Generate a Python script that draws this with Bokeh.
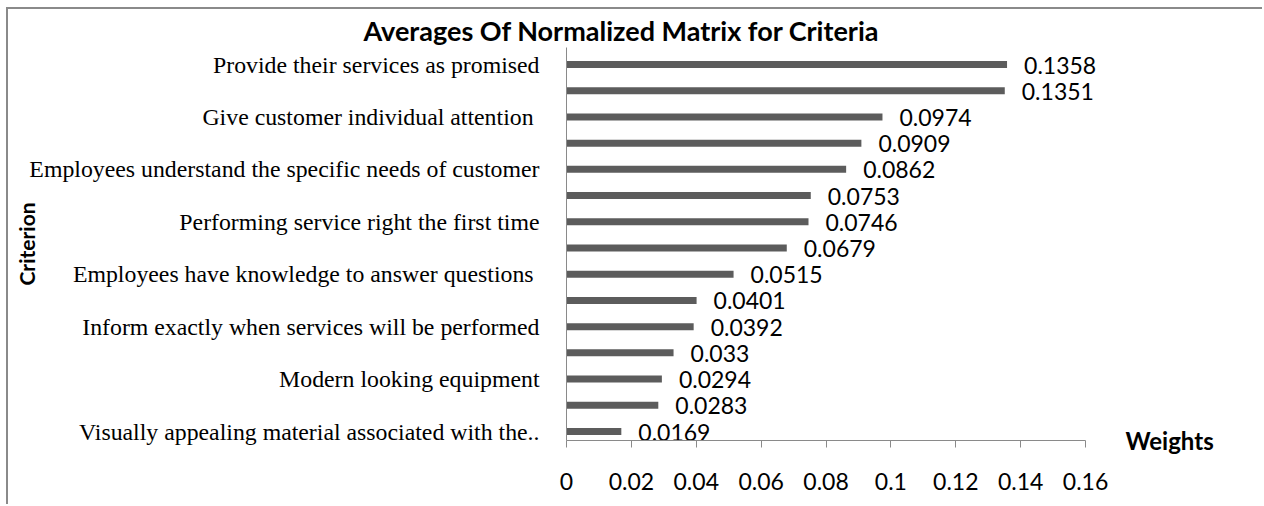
from bokeh.plotting import figure
from bokeh.models import Range1d, FixedTicker, LinearAxis, ColumnDataSource
from bokeh.core.properties import value
from bokeh.embed import file_html
from bokeh.resources import INLINE

# ---- data (top to bottom) ----
criteria = [
    "Provide their services as promised",
    "",
    "Give customer individual attention ",
    "",
    "Employees understand the specific needs of customer",
    "",
    "Performing service right the first time",
    "",
    "Employees have knowledge  to answer questions",
    "",
    "Inform exactly when services will be performed",
    "",
    "Modern looking equipment",
    "",
    "Visually appealing material associated with the..",
]
weights = [0.1358, 0.1351, 0.0974, 0.0909, 0.0862, 0.0753, 0.0746, 0.0679,
           0.0515, 0.0401, 0.0392, 0.033, 0.0294, 0.0283, 0.0169]
x_ticks = [0, 0.02, 0.04, 0.06, 0.08, 0.1, 0.12, 0.14, 0.16]
x_tick_labels = ["0", "0.02", "0.04", "0.06", "0.08", "0.1", "0.12", "0.14", "0.16"]
x_axis_max = 0.16
title_text = "Averages Of Normalized Matrix for Criteria"
y_title = "Criterion"
x_title = "Weights"

pos = list(range(1, len(weights) + 1))
src = ColumnDataSource(dict(y=pos, w=weights, lab=[str(v) for v in weights]))

GRAY = "#8a8a8a"

# plot frame is a bit wider than the axis so the value labels are not clipped
p = figure(width=1256, height=497, output_backend="svg", toolbar_location=None,
           x_range=Range1d(0, 0.168), y_range=Range1d(15.343, 0.351),
           min_border_left=558, min_border_right=153, min_border_top=38,
           min_border_bottom=66)
p.outline_line_color = None
p.background_fill_color = "white"
p.border_fill_color = "white"
p.xgrid.visible = False
p.ygrid.visible = False
p.styles = {"margin-left": "6px", "margin-top": "7px",
            "border-left": "2px solid " + GRAY, "border-top": "2px solid " + GRAY}

p.hbar(y="y", right="w", left=0, height=0.267, source=src,
       fill_color="#5c5c5c", line_color=None)
p.text(x="w", y="y", text="lab", source=src, x_offset=17, y_offset=0.5,
       text_baseline="middle", text_align="left", text_font=value("Lato"),
       text_font_size="23px", text_color="black")

# title
p.title.text = title_text
p.title.align = "left"
p.title.offset = -203
p.title.standoff = 2
p.title.text_font = "Lato"
p.title.text_font_style = "bold"
p.title.text_font_size = "27px"
p.title.text_color = "black"

# x axis
xa = p.xaxis[0]
xa.ticker = FixedTicker(ticks=x_ticks)
xa.bounds = (0, x_axis_max)
xa.major_label_overrides = {t: l for t, l in zip(x_ticks, x_tick_labels)}
xa.axis_line_color = GRAY
xa.major_tick_line_color = GRAY
xa.major_tick_out = 7
xa.major_tick_in = 0
xa.minor_tick_line_color = None
xa.major_label_standoff = 25
xa.major_label_text_font = "Lato"
xa.major_label_text_font_size = "23px"
xa.major_label_text_color = "black"

# y axis
ya = p.yaxis[0]
ya.ticker = FixedTicker(ticks=[i for i, c in zip(pos, criteria) if c])
ya.major_label_overrides = {i: c for i, c in zip(pos, criteria) if c}
ya.axis_line_color = GRAY
ya.major_tick_line_color = None
ya.minor_tick_line_color = None
ya.major_label_standoff = 21
ya.major_label_text_font = "Liberation Serif"
ya.major_label_text_font_size = "23.8px"
ya.major_label_text_color = "black"
ya.axis_label = y_title
ya.axis_label_standoff = -13
ya.axis_label_text_font = "Lato"
ya.axis_label_text_font_style = "bold"
ya.axis_label_text_font_size = "21px"
ya.axis_label_text_color = "black"

# "Weights" title at right of the x axis (label of an otherwise empty right axis)
ra = LinearAxis(ticker=FixedTicker(ticks=[]), axis_line_color=None,
                major_tick_line_color=None, minor_tick_line_color=None,
                major_label_text_font_size="0px")
ra.axis_label = x_title
ra.axis_label_standoff = 14
ra.axis_label_text_font = "Lato"
ra.axis_label_text_font_style = "bold"
ra.axis_label_text_font_size = "24px"
ra.axis_label_text_color = "black"
try:
    ra.axis_label_orientation = "horizontal"
except Exception:
    pass
try:
    ra.axis_label_align = "end"
except Exception:
    pass
p.add_layout(ra, "right")

open("out.html", "w").write(file_html(p, INLINE))
